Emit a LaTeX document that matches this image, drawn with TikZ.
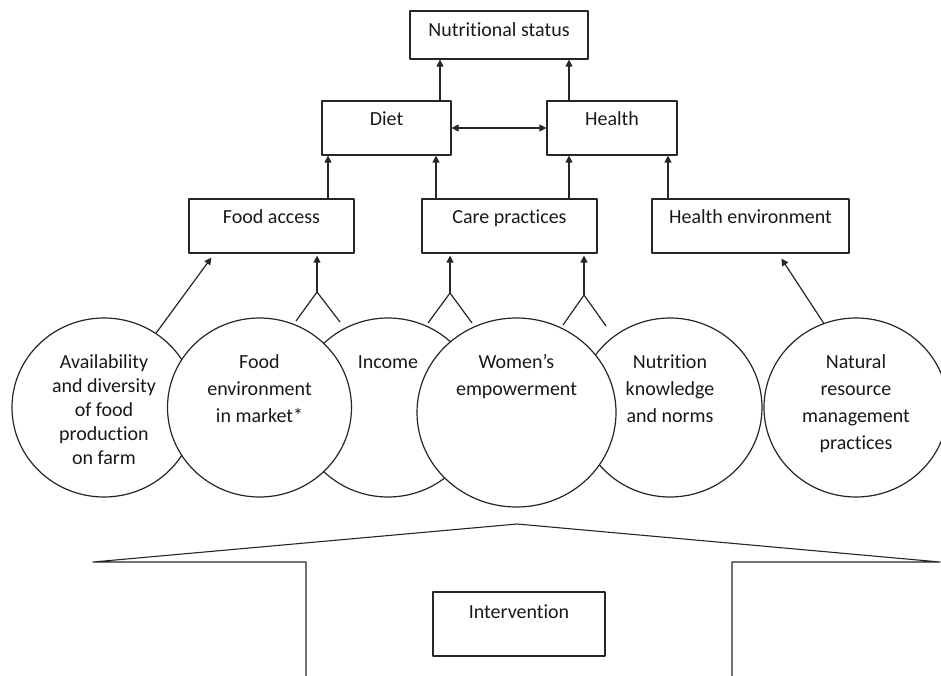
\documentclass[tikz,border=0pt]{standalone}
\usepackage{fontspec}
\setmainfont{Carlito}[Ligatures=NoCommon]
\usetikzlibrary{arrows.meta,shapes.geometric}
% stacked, centred lines whose baseline is that of the first line
\newcommand\txtlines[1]{\begin{tabular}[t]{@{}c@{}}#1\end{tabular}}
\begin{document}
\begin{tikzpicture}[x=1pt,y=-1pt,
  ink/.style={draw=black!85, line width=1.2pt, line join=round},
  box/.style={ink, rectangle, inner sep=0pt},
  bubble/.style={ink, ellipse, fill=white, inner sep=0pt,
                 minimum width=184pt, minimum height=179pt},
  txt/.style={font=\fontsize{20}{27}\selectfont, text=black!90,
              inner sep=0pt, anchor=base},
  arr/.style={ink, -{Triangle[length=7pt,width=7pt]}},
]
\useasboundingbox (0,0) rectangle (941,676);

% outcome boxes
\node[box, minimum width=178pt, minimum height=48pt] (ns) at (499,35) {};
\node[txt] (nst) at (499,37) {Nutritional status};
\node[box, minimum width=129pt, minimum height=54pt] (diet) at (386.5,128) {};
\node[txt] (dietT) at (386.5,126) {Diet};
\node[box, minimum width=130pt, minimum height=54pt] (health) at (612,128) {};
\node[txt] (healthT) at (612,126) {Health};

% pathway boxes
\node[box, minimum width=165pt, minimum height=54pt] (fa) at (271.5,226) {};
\node[txt] (faT) at (271.5,224) {Food access};
\node[box, minimum width=175pt, minimum height=54pt] (care) at (509.5,226) {};
\node[txt] (careT) at (509.5,224) {Care practices};
\node[box, minimum width=197pt, minimum height=54pt] (he) at (750.5,226) {};
\node[txt] (heT) at (750.5,224) {Health environment};

% arrows between the boxes
\draw[arr] (diet.north -| 440,0) -- (ns.south -| 440,0);
\draw[arr] (health.north -| 569,0) -- (ns.south -| 569,0);
\draw[arr, {Triangle[length=7pt,width=7pt]}-{Triangle[length=7pt,width=7pt]}] (diet.east) -- (health.west);
\draw[arr] (fa.north -| 328,0) -- (diet.south -| 328,0);
\draw[arr] (care.north -| 436,0) -- (diet.south -| 436,0);
\draw[arr] (care.north -| 569,0) -- (health.south -| 569,0);
\draw[arr] (he.north -| 668,0) -- (health.south -| 668,0);

% pathway bubbles (back row first, overlapping ones on top)
\node[bubble] (c1) at (104,407.5) {};
\node[bubble] (c3) at (388,407.5) {};
\node[bubble] (c5) at (670,407.5) {};
\node[bubble] (c6) at (856,407.5) {};
\node[bubble] (c2) at (259.5,407.5) {};
\node[bubble, minimum width=199pt, minimum height=189pt] (c4) at (516.5,412.5) {};

\node[txt, font=\fontsize{20}{24}\selectfont] (c1T) at (104,368)
  {\txtlines{Availability\\and diversity\\of food\\production\\on farm}};
\node[txt] (c2T) at (259.5,368) {\txtlines{Food\\environment\\in market*}};
\node[txt] (c3T) at (388,368) {Income};
\node[txt] (c4T) at (516.5,368) {\txtlines{Women’s\\empowerment}};
\node[txt] (c5T) at (670,368) {\txtlines{Nutrition\\knowledge\\and norms}};
\node[txt] (c6T) at (856,368) {\txtlines{Natural\\resource\\management\\practices}};

% bubbles feeding the pathway boxes
\draw[arr] (c1.55) -- ([xshift=23pt,yshift=-4pt]fa.south west);
\draw[arr] (c6.111) -- ([xshift=130pt,yshift=-5pt]he.south west);

\coordinate (f1) at (317,292);
\coordinate (f1l) at (296,321);
\coordinate (f1r) at (340,322);
\draw[ink] (f1l) -- (f1) -- (f1r);
\draw[arr, shorten >=2pt] (f1) -- (fa.south -| f1);

\coordinate (f2) at (450,293);
\coordinate (f2l) at (428,323);
\coordinate (f2r) at (472,323);
\draw[ink] (f2l) -- (f2) -- (f2r);
\draw[arr, shorten >=2pt] (f2) -- (care.south -| f2);

\coordinate (f3) at (584,295);
\coordinate (f3l) at (563,325);
\coordinate (f3r) at (606,326);
\draw[ink] (f3l) -- (f3) -- (f3r);
\draw[arr, shorten >=2pt] (f3) -- (care.south -| f3);

% intervention house
\draw[ink, line width=1.1pt] (306,677) -- (306,562) -- (93,562) -- (517,524)
  -- (940,562) -- (732,562) -- (732,677);
\node[box, minimum width=172pt, minimum height=64pt] (iv) at (519,624) {};
\node[txt] (ivT) at (519,618) {Intervention};
\end{tikzpicture}
\end{document}
